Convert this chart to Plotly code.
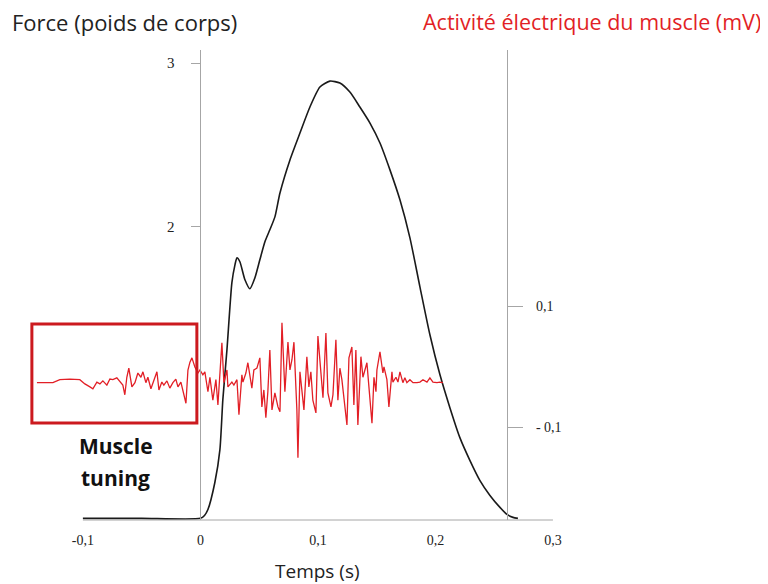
import plotly.graph_objects as go

# ---- data ----
force_t = [-0.1, -0.05, 0.0, 0.0035, 0.0064, 0.0123, 0.0166, 0.0191, 0.0226, 0.0268, 0.0294, 0.0311,
           0.0336, 0.0379, 0.0421, 0.0464, 0.0506, 0.0549, 0.0591, 0.0634, 0.0677, 0.0762, 0.0847,
           0.0932, 0.1017, 0.1102, 0.1187, 0.1272, 0.1357, 0.1443, 0.1528, 0.1613, 0.1698, 0.1783,
           0.1868, 0.1953, 0.2038, 0.2123, 0.2208, 0.2294, 0.2379, 0.2464, 0.2549, 0.2609, 0.2660, 0.2702]
force_bw = [0.22, 0.22, 0.22, 0.238, 0.274, 0.439, 0.640, 0.945, 1.25, 1.659, 1.768, 1.811,
            1.787, 1.677, 1.622, 1.689, 1.799, 1.909, 1.982, 2.061, 2.207, 2.409, 2.573,
            2.732, 2.854, 2.890, 2.878, 2.823, 2.732, 2.634, 2.512, 2.348, 2.165, 1.933,
            1.634, 1.341, 1.098, 0.896, 0.713, 0.573, 0.451, 0.360, 0.287, 0.244, 0.226, 0.22]

emg_t = [-0.1391, -0.1255, -0.1196, -0.1111, -0.1026, -0.0983, -0.0940, -0.0915, -0.0881, -0.0855,
         -0.0830, -0.0796, -0.0770, -0.0745, -0.0711, -0.0685, -0.0660, -0.0643, -0.0626, -0.0609,
         -0.0583, -0.0557, -0.0532, -0.0506, -0.0489, -0.0464, -0.0447, -0.0421, -0.0396, -0.0370,
         -0.0353, -0.0328, -0.0311, -0.0285, -0.0260, -0.0234, -0.0209, -0.0191, -0.0166, -0.0149,
         -0.0123, -0.0106, -0.0089, -0.0072, -0.0047, -0.0021, -0.0004, 0.0021, 0.0038, 0.0064,
         0.0081, 0.0106, 0.0132, 0.0149, 0.0166, 0.0183, 0.0200, 0.0226, 0.0234, 0.0268,
         0.0285, 0.0311, 0.0328, 0.0353, 0.0362, 0.0387, 0.0404, 0.0421, 0.0438, 0.0455,
         0.0481, 0.0506, 0.0523, 0.0540, 0.0557, 0.0574, 0.0591, 0.0609, 0.0634, 0.0660,
         0.0677, 0.0694, 0.0719, 0.0745, 0.0762, 0.0779, 0.0796, 0.0821, 0.0830, 0.0847,
         0.0864, 0.0881, 0.0906, 0.0923, 0.0940, 0.0957, 0.0983, 0.1000, 0.1043, 0.1068,
         0.1085, 0.1111, 0.1128, 0.1153, 0.1170, 0.1187, 0.1204, 0.1221, 0.1247, 0.1264,
         0.1289, 0.1306, 0.1323, 0.1340, 0.1366, 0.1383, 0.1417, 0.1434, 0.1460, 0.1477,
         0.1494, 0.1502, 0.1528, 0.1553, 0.1562, 0.1587, 0.1604, 0.1630, 0.1638, 0.1664,
         0.1681, 0.1698, 0.1723, 0.1740, 0.1757, 0.1783, 0.1809, 0.1843, 0.1868, 0.1894,
         0.1928, 0.1953, 0.1979, 0.2013, 0.2038, 0.2064]
emg_mv = [-0.026, -0.026, -0.021, -0.020, -0.021, -0.028, -0.033, -0.036, -0.025, -0.028,
          -0.023, -0.030, -0.020, -0.021, -0.018, -0.025, -0.030, -0.046, -0.017, -0.002,
          -0.033, -0.026, -0.010, -0.017, -0.008, -0.026, -0.017, -0.036, -0.021, -0.008,
          -0.038, -0.025, -0.030, -0.023, -0.035, -0.026, -0.020, -0.033, -0.025, -0.038,
          -0.060, -0.005, 0.008, 0.015, 0.000, -0.010, -0.005, -0.013, -0.008, -0.041,
          -0.017, -0.055, -0.021, -0.063, -0.013, 0.040, -0.026, -0.005, -0.033, -0.025,
          -0.030, -0.021, -0.079, -0.013, -0.025, -0.010, 0.007, -0.017, -0.035, -0.005,
          -0.002, 0.015, -0.066, -0.038, -0.084, -0.041, 0.028, -0.071, -0.043, -0.066,
          -0.074, 0.073, -0.041, 0.041, -0.005, 0.012, 0.041, -0.071, -0.150, -0.008,
          -0.046, -0.071, 0.017, -0.033, -0.008, -0.055, -0.076, 0.051, -0.051, 0.056,
          -0.043, -0.066, -0.046, 0.045, -0.055, -0.002, -0.021, -0.050, -0.096, 0.015,
          0.033, -0.063, 0.028, -0.096, 0.017, -0.017, 0.007, -0.033, -0.093, -0.017,
          -0.041, -0.005, 0.025, -0.010, 0.000, -0.021, -0.066, -0.008, -0.025, -0.017,
          -0.025, -0.008, -0.026, -0.018, -0.026, -0.021, -0.026, -0.026, -0.025, -0.021,
          -0.025, -0.018, -0.025, -0.026, -0.025, -0.026]

x_ticks = [-0.1, 0, 0.1, 0.2, 0.3]
x_ticktext = ["-0,1", "0", "0,1", "0,2", "0,3"]
force_ticks = [2, 3]
force_ticktext = ["2", "3"]
emg_ticks = [0.1, -0.1]
emg_ticktext = ["0,1", "- 0,1"]

# ---- layout geometry ----
X_RANGE = [-0.145, 0.306]
Y_RANGE = [0.21, 3.08]
Y2_RANGE = [-0.253, 0.524]
RIGHT_AXIS_T = 0.261
BOX = dict(x0=-0.1434, x1=-0.0030, y0=-0.0926, y1=0.071)

def xfrac(t):
    return (t - X_RANGE[0]) / (X_RANGE[1] - X_RANGE[0])

AX_GRAY = "#a6a6a6"
SERIF = "Liberation Serif"
SANS = "Open Sans"
RED = "#e21f26"

fig = go.Figure()
fig.add_trace(go.Scatter(x=emg_t, y=emg_mv, mode="lines", yaxis="y2",
                         line=dict(color=RED, width=1.3), showlegend=False, hoverinfo="skip"))
fig.add_trace(go.Scatter(x=force_t, y=force_bw, mode="lines", yaxis="y",
                         line=dict(color="#1a1a1a", width=1.6, shape="spline", smoothing=0.6),
                         showlegend=False, hoverinfo="skip"))

# page body has an 8px margin: figure is 760x576 and offset accordingly
fig.update_layout(
    width=760, height=576,
    margin=dict(l=22, r=208, t=42, b=64),
    paper_bgcolor="white", plot_bgcolor="white",
    xaxis=dict(range=X_RANGE, showgrid=False, zeroline=False, showline=False,
               tickvals=x_ticks, ticktext=x_ticktext, ticks="",
               ticklabelstandoff=10,
               tickfont=dict(family=SERIF, size=14, color="#222")),
    yaxis=dict(range=Y_RANGE, showgrid=False, zeroline=False, showline=True,
               linecolor=AX_GRAY, linewidth=1, anchor="free", position=xfrac(0.0),
               tickvals=force_ticks, ticktext=force_ticktext, ticks="outside",
               ticklen=9, tickcolor=AX_GRAY, ticklabelstandoff=14,
               tickfont=dict(family=SERIF, size=15, color="#222")),
    yaxis2=dict(range=Y2_RANGE, overlaying="y", side="right", anchor="free",
                position=xfrac(RIGHT_AXIS_T), showgrid=False, zeroline=False,
                showline=True, linecolor=AX_GRAY, linewidth=1,
                tickvals=emg_ticks, ticktext=emg_ticktext, ticks="outside",
                ticklen=15, tickcolor=AX_GRAY, ticklabelstandoff=10,
                tickfont=dict(family=SERIF, size=14, color="#222")),
)

# x axis baseline
fig.add_shape(type="line", xref="x", yref="y domain", x0=-0.1, x1=0.3, y0=0, y1=0,
              line=dict(color=AX_GRAY, width=1))
# red box
fig.add_shape(type="rect", xref="x", yref="y2", x0=BOX["x0"], x1=BOX["x1"],
              y0=BOX["y0"], y1=BOX["y1"], line=dict(color="#cc1a1f", width=3))

def py(p):
    return (520 - p) / 470

def px(p):
    return (p - 30) / 530

fig.add_annotation(text="Force (poids de corps)", xref="paper", yref="paper",
                   x=px(10), y=py(22), xanchor="left", yanchor="middle",
                   showarrow=False, font=dict(family=SANS, size=22, color="#222"))
fig.add_annotation(text="Activité électrique du muscle (mV)", xref="paper", yref="paper",
                   x=px(763), y=py(22), xanchor="right", yanchor="middle",
                   showarrow=False, font=dict(family=SANS, size=21.5, color=RED))
fig.add_annotation(text="Temps (s)", xref="x", yref="paper", x=0.1, y=py(571),
                   xanchor="center", yanchor="middle", showarrow=False,
                   font=dict(family=SANS, size=19, color="#222"))
fig.add_annotation(text="<b>Muscle</b>", xref="x", yref="paper", x=-0.072, y=py(446),
                   xanchor="center", yanchor="middle", showarrow=False,
                   font=dict(family=SANS, size=21, color="#111"))
fig.add_annotation(text="<b>tuning</b>", xref="x", yref="paper", x=-0.072, y=py(478),
                   xanchor="center", yanchor="middle", showarrow=False,
                   font=dict(family=SANS, size=21, color="#111"))

fig.write_html("out.html")
